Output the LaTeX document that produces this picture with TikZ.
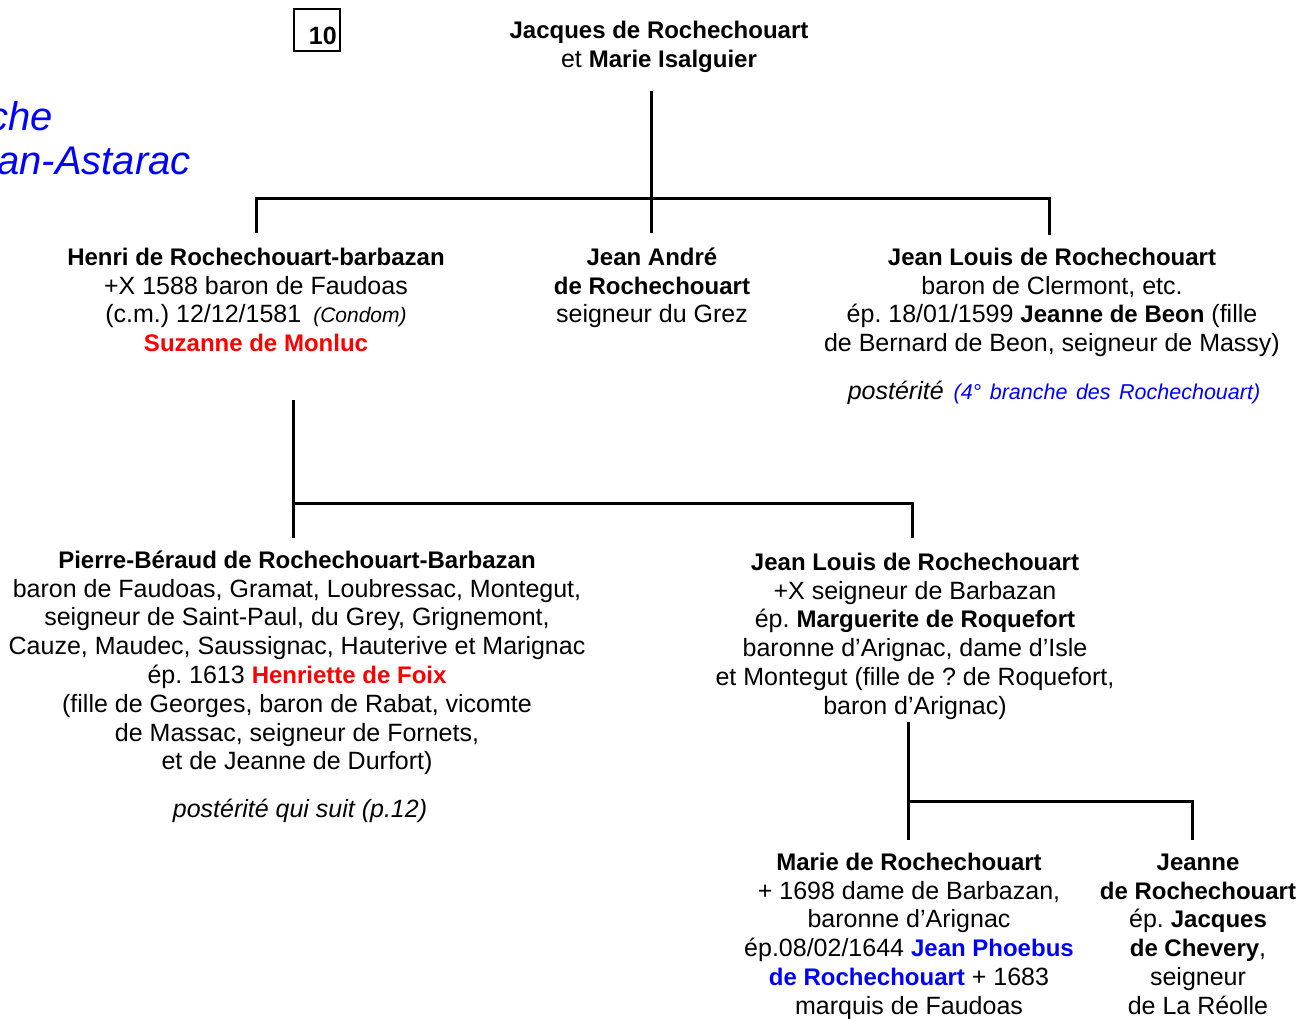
\documentclass[tikz,border=0pt]{standalone}
\usepackage{fontspec}
\setmainfont{Liberation Sans}
\frenchspacing
\definecolor{namered}{RGB}{255,0,0}
\definecolor{nameblue}{RGB}{0,0,255}
\newcommand\firststrut{\rule{0pt}{20pt}}
\newcommand\nm[1]{{\fontsize{24}{28.8}\selectfont\bfseries #1}}
\tikzset{
  person/.style={anchor=north, align=center, inner sep=0pt, font=\fontsize{25}{28.8}\selectfont},
  note/.style={anchor=base, inner sep=0pt, font=\fontsize{25}{28.8}\selectfont\itshape},
  branch/.style={anchor=base east, inner sep=0pt, text=nameblue, font=\fontsize{40}{46}\selectfont\itshape},
  link/.style={line width=3pt, line join=miter},
}
\begin{document}
\begin{tikzpicture}[x=1pt, y=-1pt]
\useasboundingbox (0,0) rectangle (1301,1018);

% page number box
\node[draw, line width=2.5pt, minimum width=46pt, minimum height=42pt, inner sep=0pt] (pagebox) at (317,30) {};
\node[anchor=base east, inner sep=0pt, font=\fontsize{25}{28}\selectfont\bfseries] (pagenum) at (337,44) {10};

% branch title (cut at the left edge, as in the reference)
\node[branch] (br1) at (53,130) {che};
\node[branch] (br2) at (191,174) {an-Astarac};

% generation 0
\node[person] (jacques) at (659,18) {\firststrut\nm{Jacques de Rochechouart}\\ et \nm{Marie Isalguier}};

% generation 1
\node[person] (henri) at (256,245) {\firststrut\nm{Henri de Rochechouart-barbazan}\\
+X 1588 baron de Faudoas\\
(c.m.) 12/12/1581\hspace{5pt} {\fontsize{21}{24}\selectfont\itshape (Condom)}\\
\textcolor{namered}{\nm{Suzanne de Monluc}}};

\node[person] (jeanandre) at (652,245) {\firststrut\nm{Jean André}\\ \nm{de Rochechouart}\\ seigneur du Grez};

\node[person] (jeanlouisA) at (1052,245) {\firststrut\nm{Jean Louis de Rochechouart}\\
baron de Clermont, etc.\\
ép. 18/01/1599 \nm{Jeanne de Beon} (fille\\
de Bernard de Beon, seigneur de Massy)};

\node[note] (posteriteA) at (1054,399) {postérité\hspace{3pt} {\fontsize{21.5}{24}\selectfont\spaceskip=8.5pt\color{nameblue}(4° branche des Rochechouart)}};

% generation 2
\node[person] (pierre) at (297,548) {\firststrut\nm{Pierre-Béraud de Rochechouart-Barbazan}\\
baron de Faudoas, Gramat, Loubressac, Montegut,\\
seigneur de Saint-Paul, du Grey, Grignemont,\\
Cauze, Maudec, Saussignac, Hauterive et Marignac\\
ép. 1613 \textcolor{namered}{\nm{Henriette de Foix}}\\
(fille de Georges, baron de Rabat, vicomte\\
de Massac, seigneur de Fornets,\\
et de Jeanne de Durfort)};

\node[note] (posteriteB) at (300,817) {postérité qui suit (p.12)};

\node[person] (jeanlouisB) at (915,550) {\firststrut\nm{Jean Louis de Rochechouart}\\
+X seigneur de Barbazan\\
ép. \nm{Marguerite de Roquefort}\\
baronne d’Arignac, dame d’Isle\\
et Montegut (fille de ? de Roquefort,\\
baron d’Arignac)};

% generation 3
\node[person] (marie) at (909,850) {\firststrut\nm{Marie de Rochechouart}\\
+ 1698 dame de Barbazan,\\
baronne d’Arignac\\
ép.08/02/1644 \textcolor{nameblue}{\nm{Jean Phoebus}}\\
\textcolor{nameblue}{\nm{de Rochechouart}} + 1683\\
marquis de Faudoas};

\node[person] (jeanne) at (1198,850) {\firststrut\nm{Jeanne}\\
\nm{de Rochechouart}\\
ép. \nm{Jacques}\\
\nm{de Chevery},\\
seigneur\\
de La Réolle};

% connector points
\coordinate (aTop) at (651,91);
\coordinate (aBot) at (651,233);
\coordinate (aL) at (256,198);
\coordinate (aLb) at (256,233);
\coordinate (aR) at (1049,198);
\coordinate (aRb) at (1049,235);

\coordinate (bTop) at (293,400);
\coordinate (bJ) at (293,503);
\coordinate (bBot) at (293,538);
\coordinate (bR) at (912,503);
\coordinate (bRb) at (912,538);

\coordinate (cTop) at (908,722);
\coordinate (cJ) at (908,801);
\coordinate (cBot) at (908,840);
\coordinate (cR) at (1192,801);
\coordinate (cRb) at (1192,840);

% connectors
\draw[link] (aTop) -- (aBot);
\draw[link] (aLb) -- (aL) -- (aR) -- (aRb);

\draw[link] (bTop) -- (bBot);
\draw[link] (bJ) -- (bR) -- (bRb);

\draw[link] (cTop) -- (cBot);
\draw[link] (cJ) -- (cR) -- (cRb);
\end{tikzpicture}
\end{document}
